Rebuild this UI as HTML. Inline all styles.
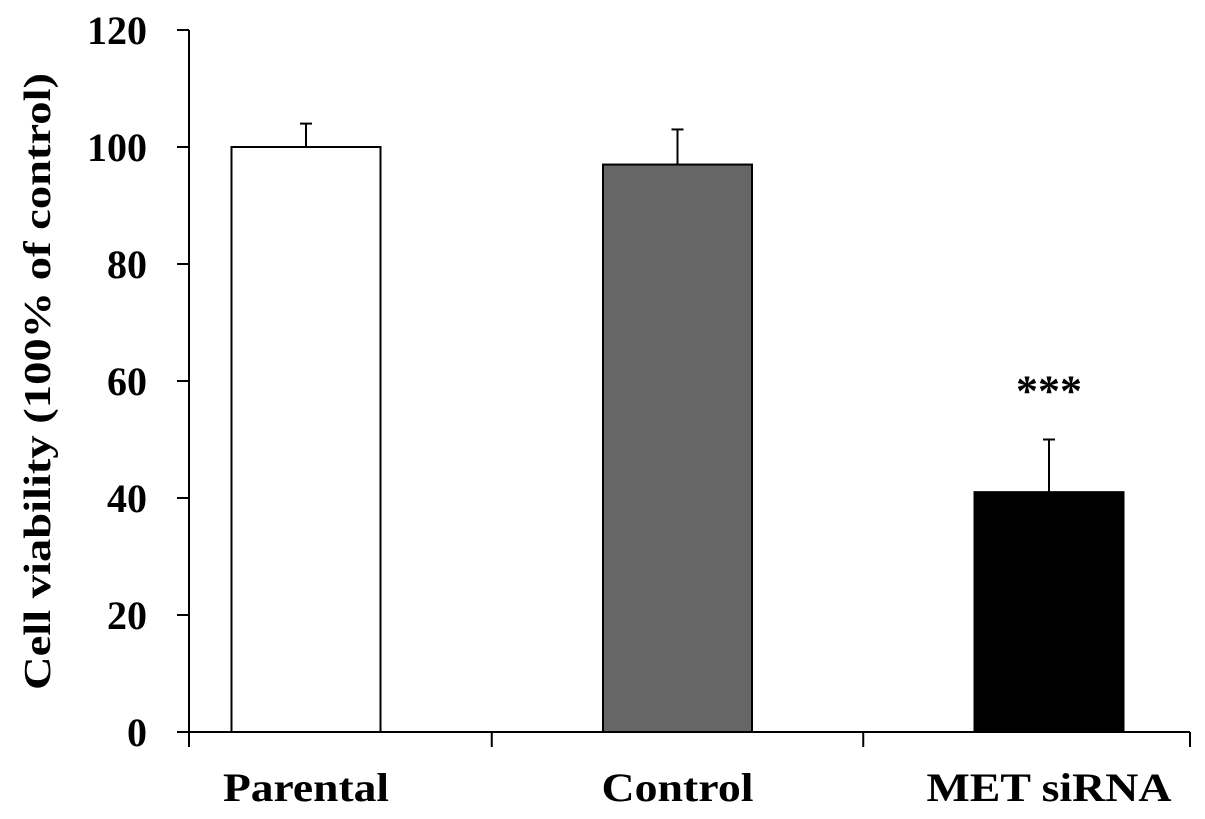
<!DOCTYPE html>
<html><head><meta charset="utf-8"><style>
body{margin:0;background:#fff}
svg text{font-family:"Liberation Serif",serif;font-weight:bold;fill:#000}
</style></head><body>
<svg id="c" width="1205" height="814" xmlns="http://www.w3.org/2000/svg"></svg>
<script>
const categories=["Parental","Control","MET siRNA"];
const values=[100,97,41];
const errors=[4,6,9];
const fills=["#ffffff","#666666","#000000"];
const yTicks=[0,20,40,60,80,100,120];
const sigLabels=["","","***"];
const svg=document.getElementById('c');
const NS="http://www.w3.org/2000/svg";
const x0=189,y0=732,yTop=30,yMax=120,xEnd=1190;
const y=v=>y0-(v/yMax)*(y0-yTop);
const band=371.5, firstCenter=306, bw=149;
const xc=i=>firstCenter+i*band;
const labelLen=[166,152,245];
function mk(t,a,name){const e=document.createElementNS(NS,t);for(const k in a)e.setAttribute(k,a[k]);


svg.appendChild(e);return e;}
values.forEach((v,i)=>{
 mk('rect',{x:xc(i)-bw/2,y:y(v),width:bw,height:y0-y(v),fill:fills[i],stroke:'#000','stroke-width':2},'bar-'+categories[i].toLowerCase().replace(/\s+/g,'-'));
 mk('line',{x1:xc(i),x2:xc(i),y1:y(v),y2:y(v+errors[i]),stroke:'#000','stroke-width':2},'error-bar');
 mk('line',{x1:xc(i)-6,x2:xc(i)+6,y1:y(v+errors[i]),y2:y(v+errors[i]),stroke:'#000','stroke-width':2},'error-cap');
 if(sigLabels[i]){const t=mk('text',{x:xc(i),y:y(v+errors[i])-34,'text-anchor':'middle','font-size':44,textLength:66,lengthAdjust:'spacingAndGlyphs'},'significance-marker');t.textContent=sigLabels[i];}
 const l=mk('text',{x:xc(i)-labelLen[i]/2,y:801,'font-size':40,textLength:labelLen[i],lengthAdjust:'spacingAndGlyphs'},'x-label');l.textContent=categories[i];
});
mk('line',{x1:x0,x2:x0,y1:yTop,y2:y0+15,stroke:'#000','stroke-width':2},'y-axis');
mk('line',{x1:x0-12,x2:xEnd,y1:y0,y2:y0,stroke:'#000','stroke-width':2},'x-axis');
for(let i=1;i<categories.length;i++){mk('line',{x1:(xc(i-1)+xc(i))/2,x2:(xc(i-1)+xc(i))/2,y1:y0,y2:y0+15,stroke:'#000','stroke-width':2},'x-tick');}
mk('line',{x1:xEnd,x2:xEnd,y1:y0,y2:y0+15,stroke:'#000','stroke-width':2},'x-tick');
yTicks.forEach(v=>{
 mk('line',{x1:x0-12,x2:x0,y1:y(v),y2:y(v),stroke:'#000','stroke-width':2},'y-tick');
 const t=mk('text',{x:147,y:y(v)+14,'text-anchor':'end','font-size':40},'y-tick-label');t.textContent=v;
});
const yl=mk('text',{x:-308,y:0,'font-size':38,textLength:617,lengthAdjust:'spacingAndGlyphs',transform:'translate(50,382) rotate(-90)'},'y-axis-title');
yl.textContent="Cell viability (100% of control)";
</script>
</body></html>
